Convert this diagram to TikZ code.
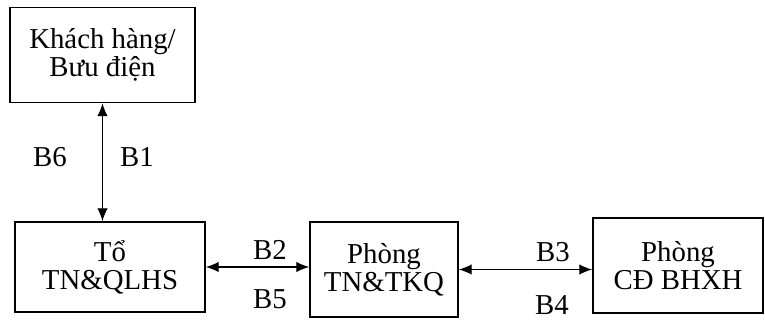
\documentclass[tikz,border=0pt]{standalone}
\usepackage{fontspec}
\setmainfont{Liberation Serif}
\usetikzlibrary{arrows.meta}

\begin{document}
\begin{tikzpicture}[x=0.025cm,y=-0.025cm,
    box/.style={draw,line width=1.2pt,align=center,inner sep=0pt,font=\fontsize{20.5}{20}\selectfont},
    lbl/.style={inner sep=0pt,font=\fontsize{20.5}{20}\selectfont},
    link/.style={{Latex[length=3.2mm,width=2.6mm]}-{Latex[length=3.2mm,width=2.6mm]},line width=0.8pt}]

        \useasboundingbox (0,0) rectangle (765,320);

        \node[box,minimum width=4.625cm,minimum height=2.375cm] (khach) at (102.5,55) {Khách hàng/\\Bưu điện};
        \node[box,minimum width=4.75cm,minimum height=2.25cm] (to) at (110,267) {Tổ\\TN\&QLHS};
        \node[box,minimum width=3.7cm,minimum height=2.375cm] (tkq) at (384,269.5) {Phòng\\TN\&TKQ};
        \node[box,minimum width=4.25cm,minimum height=2.375cm] (cd) at (678,265.5) {Phòng\\CĐ BHXH};

        \draw[link] (khach.south) -- (khach.south |- to.north);
        \draw[link] (to.east) -- (to.east -| tkq.west);
        \draw[link] (tkq.east) -- (tkq.east -| cd.west);

        \node[lbl] (b6) at (50,157) {B6};
        \node[lbl] (b1) at (137,157) {B1};
        \node[lbl] (b2) at (270,250) {B2};
        \node[lbl] (b5) at (270,299) {B5};
        \node[lbl] (b3) at (553,252) {B3};
        \node[lbl] (b4) at (552,305) {B4};

    \end{tikzpicture}
\end{document}
